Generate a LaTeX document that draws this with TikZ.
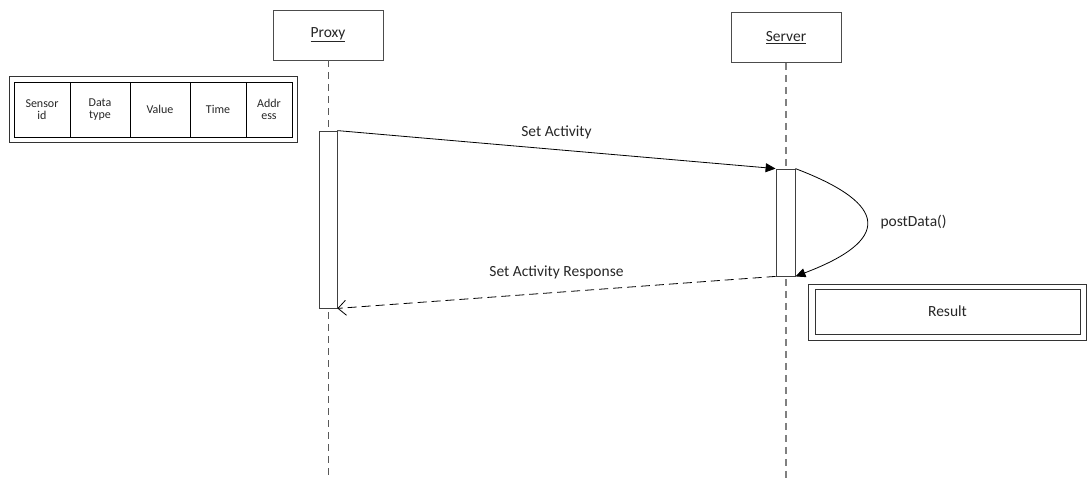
\documentclass[tikz,border=0pt]{standalone}
\usepackage{fontspec}
\setmainfont{Carlito}
\usetikzlibrary{arrows.meta,positioning}

\begin{document}
\begin{tikzpicture}[
  x=1pt, y=-1pt,
  every node/.style={font=\fontsize{15.5}{18}\selectfont, text=black!85},
  lifeBox/.style={draw=black!70, line width=0.9pt, minimum width=110pt,
    minimum height=50pt},
  lifeLine/.style={draw=black!65, line width=0.9pt, dash pattern=on 7pt off 5pt},
  actBar/.style={draw=black!75, fill=white, line width=0.8pt,
    minimum width=18pt, inner sep=0pt},
  msgCall/.style={draw=black, line width=0.8pt, -{Triangle[length=10pt,width=9pt]}},
  msgReturn/.style={draw=black, line width=0.8pt, dash pattern=on 9pt off 5pt,
    -{Straight Barb[length=8pt,width=15pt]}},
  cellBox/.style={draw=black, line width=0.9pt, minimum height=55pt, inner sep=0pt,
    align=center, font=\fontsize{12}{11.5}\selectfont},
  frameBox/.style={draw=black!80, line width=0.9pt, inner sep=0pt}
]
\useasboundingbox (0,0) rectangle (1088,479);

% Lifelines.
\node[lifeBox] (proxy) at (328,35) {\underline{Proxy}};
\node[lifeBox] (server) at (786,37.5) {\underline{Server}};
\coordinate (proxyEnd) at (328,479);
\coordinate (serverEnd) at (786,479);
\draw[lifeLine] (proxy.south) -- (proxyEnd);
\draw[lifeLine, draw=gray, line width=1.4pt] (server.south) -- (serverEnd);

% Activation bars.
\node[actBar, minimum height=177pt] (proxyAct) at (328,219.5) {};
\node[actBar, minimum height=107pt, minimum width=19pt] (serverAct) at (785.5,222.5) {};

% Messages.
\draw[msgCall] (proxyAct.north east) -- (serverAct.north west)
  node[midway, above=7pt] {Set Activity};
\draw[msgCall] (serverAct.north east) .. controls +(95,36) and +(95,-36)
  .. (serverAct.south east);
\node[anchor=west] (postData) at (877,222) {postData()};
\draw[msgReturn] (serverAct.south west) -- (proxyAct.south east)
  node[midway, above=10pt] {Set Activity Response};

% Data packet fields.
\node[frameBox, minimum width=288pt, minimum height=66pt] (packet) at (153,109) {};
\node[cellBox, minimum width=56pt] (cellSensor) at (42,109.5) {Sensor\\id};
\node[cellBox, minimum width=60pt] (cellType) at (100,109.5) {Data\\type};
\node[cellBox, minimum width=60pt] (cellValue) at (160,109.5) {Value};
\node[cellBox, minimum width=56pt] (cellTime) at (218,109.5) {Time};
\node[cellBox, minimum width=46pt] (cellAddr) at (269,109.5) {Addr\\ess};

% Result.
\node[frameBox, minimum width=278pt, minimum height=56pt] (resultFrame) at (947,312) {};
\node[frameBox, minimum width=265pt, minimum height=45pt] (result) at (947.5,311.5) {Result};
\end{tikzpicture}
\end{document}
